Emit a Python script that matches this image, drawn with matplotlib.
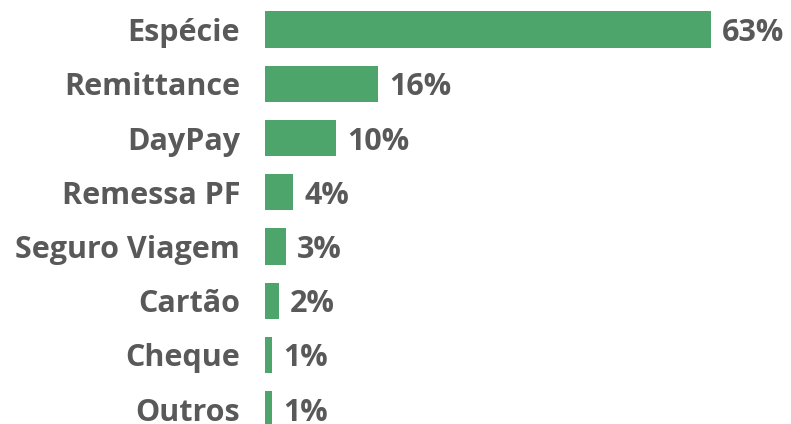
import matplotlib.pyplot as plt
from matplotlib import transforms

# ── Data ───────────────────────────────────────────────────────────────────────
categories = ["Espécie", "Remittance", "DayPay", "Remessa PF",
              "Seguro Viagem", "Cartão", "Cheque", "Outros"]
values = [63, 16, 10, 4, 3, 2, 1, 1]
labels = ["63%", "16%", "10%", "4%", "3%", "2%", "1%", "1%"]

GREEN = "#4EA56C"
GRAY = "#595959"
FONT = "Open Sans"
SIZE = 22

fig = plt.figure(figsize=(7.91, 4.24), dpi=100)
ax = fig.add_axes([265 / 791, 0, (711 - 265) / 791, 1])

ypos = list(range(len(categories)))
ax.barh(ypos, values, height=0.67, color=GREEN)

ax.set_xlim(0, max(values))
ax.set_ylim(7.272, -0.544)

# value labels, fixed pixel gap after each bar
offset = transforms.offset_copy(ax.transData, fig=fig, x=11, y=0, units="dots")
for y, v, lab in zip(ypos, values, labels):
    ax.text(v, y, lab, transform=offset, ha="left", va="center_baseline",
            fontsize=SIZE, fontweight="bold", color=GRAY, family=FONT,
            clip_on=False)

# category labels
ax.set_yticks(ypos)
ax.set_yticklabels(categories, fontsize=SIZE, fontweight="bold",
                   color=GRAY, family=FONT)
ax.tick_params(axis="y", length=0, pad=18)
ax.set_xticks([])
for spine in ax.spines.values():
    spine.set_visible(False)

fig.savefig("out.png", dpi=100)
